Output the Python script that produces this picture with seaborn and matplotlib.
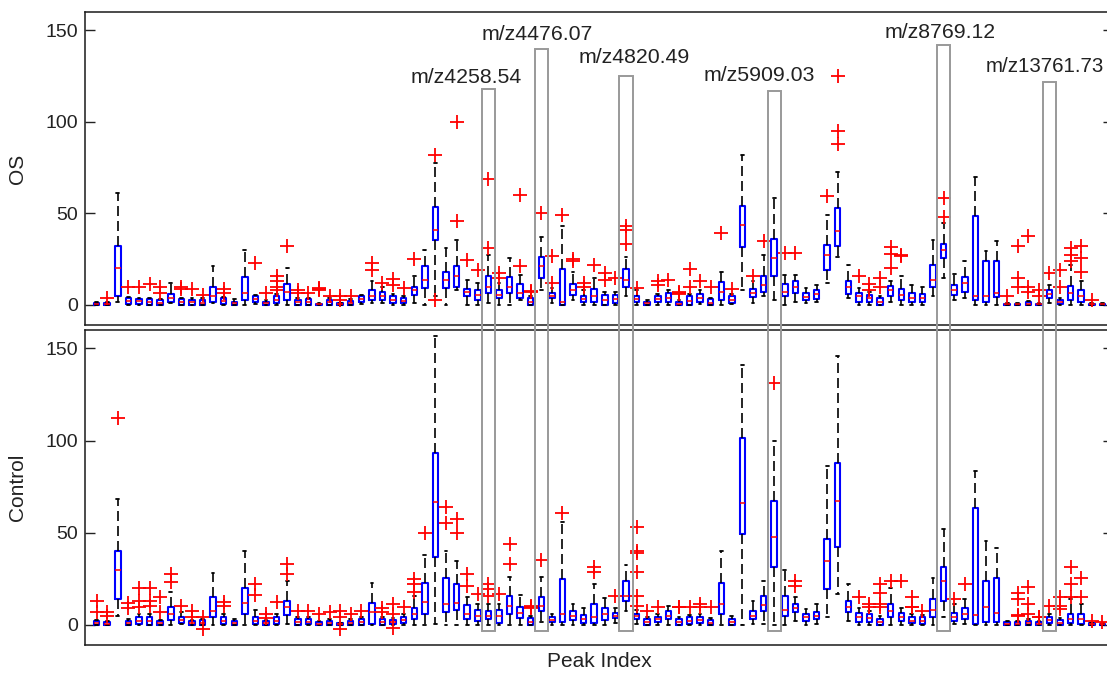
import matplotlib
matplotlib.use('Agg')
import matplotlib.pyplot as plt
import seaborn as sns
from matplotlib.patches import Rectangle

# peak positions on the x axis
peak_index = list(range(1, 97))

# ---- OS group: five-number summaries + outliers ----
os_lo = [0, 0, 1.8, 0, 0, 0, 0, 0.9, 0, 0,
         0, 0.9, 0, 0, 0, 0.5, 0, 0, 0, 0,
         0, 0, 0, 0, 0, 0.5, 1, 0.9, 0, 0,
         0.9, 0, 5, 0, 8.2, 0, 0, 0.9, 0, 0,
         2.7, 0, 8.2, 1, 0, 2.7, 0, 0, 0, 0,
         4.6, 0, 0, 0, 0, 0, 0, 0.5, 0, 0,
         0.5, 8, 0.9, 4.6, 2.7, 0, 1.8, 0.9, 1.3, 11.9,
         26.4, 3.6, 0, 0, 0, 1.8, 0, 0, 0, 4.6,
         14.6, 2.7, 3.6, 0, 0, 0, 0, 0, 0, 0,
         0.9, 0, 0, 0, 0, 0]
os_q1 = [0, 0, 5, 0.5, 0.4, 0, 0, 1.8, 0, 0,
         0, 1.8, 0.5, 0, 2.4, 1.3, 0, 0.9, 2.4, 0,
         0, 0, 0, 0, 0, 1.8, 2.7, 2.7, 0.9, 0.9,
         5.5, 9.1, 35.5, 9.1, 10, 4.9, 2.4, 6.7, 3.6, 6.4,
         4, 0, 14.6, 3.6, 0, 5.5, 1.8, 1.8, 0, 0.9,
         10, 1.3, 0, 1.5, 1.3, 0, 0, 1.3, 0, 2.4,
         0.9, 31.5, 4.2, 7.3, 15.5, 4.6, 6.7, 2.4, 3.1, 19.1,
         32.3, 6, 1.8, 1.8, 0, 4.9, 2.4, 1.8, 1.3, 10,
         25.5, 5.5, 7.3, 2.4, 1.8, 4.2, 0, 0, 0, 0,
         3.6, 0.5, 2.4, 1.8, 0, 0]
os_med = [0.5, 0.4, 20, 2, 2, 1.5, 1, 3.5, 1.5, 1.4,
          1, 4.6, 2, 1, 6.4, 3, 0.8, 2.5, 7.3, 1.5,
          1.8, 0.2, 1.3, 0.3, 1, 3, 5, 5, 2.5, 2,
          8, 13.7, 40.7, 13.7, 15.5, 7.3, 5.5, 10, 5.5, 10,
          6.4, 1.8, 21, 5, 1.8, 8.2, 3.2, 4.6, 2.5, 3,
          13.7, 3, 1, 3, 4, 0.5, 2, 3.5, 1.2, 7.3,
          2.5, 43.8, 6.4, 11, 25.5, 7.3, 10, 4.5, 6, 27.4,
          40.1, 10, 5, 3.5, 1.5, 8, 5.5, 4, 3.5, 13.7,
          30.2, 8, 11.9, 4.6, 4.6, 6.7, 0.2, 0.2, 0.5, 0.2,
          6, 1.5, 6.5, 4.6, 0.2, 0.2]
os_q3 = [1.2, 1, 32, 3.6, 3.3, 3, 2.5, 6, 3.3, 2.7,
         2.7, 9.7, 3.6, 1.8, 15, 4.6, 1.8, 4.6, 11.3, 2.7,
         3.3, 0.5, 2.7, 0.9, 2.2, 4.6, 8.2, 7.3, 4.6, 3.6,
         10, 21, 53.6, 18.2, 21.3, 8.6, 8.2, 15.8, 8.2, 15,
         11.3, 3.6, 26.4, 6.4, 19.5, 11.3, 4.6, 8.6, 5.5, 5.5,
         19.5, 4.6, 1.8, 4.6, 6.4, 1.5, 4.6, 6, 3.1, 12.4,
         4.6, 53.8, 8.6, 15.9, 35.9, 11.3, 13.1, 6.7, 8.2, 32.8,
         52.9, 13.3, 6.7, 5.5, 3.6, 10.4, 8.6, 6.7, 6, 21.9,
         33, 10.9, 15, 48.4, 23.7, 23.7, 0.5, 0.5, 1.3, 0.5,
         8.2, 2.7, 10.4, 8.2, 0.5, 0.5]
os_hi = [1.5, 1.5, 61, 4.5, 4, 4, 3, 12, 4, 3.5,
         3.5, 21, 4.5, 3, 30, 5.5, 2.5, 6, 20, 3.5,
         4, 1, 3.5, 1.2, 3, 5.5, 12.8, 10, 6, 5,
         15.5, 30, 77.5, 31, 35.6, 13.7, 11.9, 27.4, 12, 25.5,
         16.4, 5, 37, 9, 43, 18.2, 8.2, 14.6, 7, 7,
         26.4, 8.2, 2.5, 6, 8, 2.5, 6, 8, 4, 18.2,
         6, 82, 12.8, 27.4, 58.4, 16.4, 16.4, 9.1, 11, 49.3,
         72.4, 21.9, 9.1, 7, 5, 12.8, 15.5, 11, 10, 35.6,
         44.7, 17, 23.7, 70, 29.2, 34.7, 1, 1, 2, 1,
         11, 3.5, 21.9, 12.8, 1, 1]
os_out = [[], [4], [], [10], [10], [11.5], [10, 6.5], [], [10, 8.5], [8.5],
          [5.5], [], [8.6, 6.5], [], [], [23], [6.4], [15.5, 12.8, 10, 8.2], [32], [8.2, 6.4],
          [6.4], [8.2, 8.6, 9], [4.6], [4.6, 2.7], [4.6], [], [23, 19], [12], [14, 11], [9],
          [25], [], [82, 2.7], [], [100, 46], [24.6], [19], [68.6, 31], [17.3, 14.6], [],
          [60, 21], [7.3, 7.8], [50], [26.5, 12], [49], [25, 23.7], [11.9, 10], [21.9], [17.3, 13.7], [14.6],
          [43, 41, 33], [9.1], [], [12.8, 10.9], [13.7], [6, 6.5, 7], [19.7, 10], [12.8], [10], [39],
          [8.6], [], [15.9], [34.7], [], [28.6], [28.3], [], [], [59.5],
          [125, 95, 88], [], [15.9], [11.5, 8.2], [14.6, 10], [31.5, 28, 20], [27.5, 26.5], [], [], [],
          [58.5, 48], [], [], [], [], [], [4.6], [31.9, 14.6, 10], [37.8, 10, 7.3], [8.2, 4.6],
          [17.3], [19.1, 10], [31, 27, 24], [32, 25.5, 18.2], [2.7], []]

# ---- Control group ----
ctrl_lo = [0, 0, 4.9, 0, 0, 0, 0, 0, 0.2, 0,
           0, 0, 0, 0, 0, 0, 0, 0, 0.5, 0,
           0, 0, 0, 0, 0, 0, 0, 0, 0, 0,
           0, 0, 0.5, 0, 0, 0, 0, 0, 0, 0,
           0, 0, 1.3, 0, 0, 0, 0, 0, 0, 1,
           7.6, 0.5, 0, 0, 0, 0, 0, 0, 0, 0,
           0, 0, 0.5, 0.5, 0, 0, 1.8, 0, 0.5, 4,
           16.7, 2.2, 0, 0, 0, 0, 0, 0, 0, 0,
           4, 0.5, 0.4, 0, 0, 0, 0, 0, 0, 0,
           0, 0, 0, 0, 0, 0]
ctrl_q1 = [0, 0, 13.9, 0, 0.4, 0, 0, 2.5, 0.7, 0,
           0, 4, 0.4, 0, 5.8, 0.4, 0, 0.4, 5.4, 0,
           0.4, 0, 0, 0, 0, 0, 0.4, 0, 0.4, 0.7,
           3.1, 5.8, 37, 6.7, 8.1, 3.1, 2.2, 3.1, 0.7, 5.8,
           3.6, 0, 7.6, 1.3, 1.3, 2.5, 0.7, 0.7, 2.5, 3.6,
           13, 3.1, 0, 1.3, 3.1, 0, 0.4, 0.7, 0, 5.8,
           0, 49.3, 3.1, 7.6, 31.2, 4.9, 6.7, 2.2, 3.1, 19.2,
           42.4, 6.7, 1.3, 1.3, 0, 4, 1.8, 0.7, 0.4, 4.3,
           13, 2.2, 3.1, 0.4, 1.3, 1.3, 0, 0, 0, 0,
           0.7, 0, 0.7, 0.4, 0, 0]
ctrl_med = [1, 0.5, 29.7, 1, 2, 2, 0.8, 5.8, 2.5, 0.8,
            1, 7.6, 2, 0.8, 11.6, 2, 0.8, 2, 9.4, 1.5,
            1.5, 0.5, 1, 0.3, 1, 1.5, 6.7, 1.5, 1.5, 2.5,
            6, 12.1, 66.5, 11.2, 12, 6, 5, 5, 4.5, 10.3,
            6.5, 1.5, 10.3, 2.5, 5.8, 5, 3, 4, 6, 5,
            15.6, 4.5, 1.5, 3, 5, 1.5, 2, 2.5, 1.2, 11.2,
            1.5, 66.3, 5, 10.5, 47.5, 8, 9, 4, 5, 34.4,
            67.4, 9.5, 4, 3.5, 1.5, 7.5, 4, 2, 2, 8,
            23.9, 4, 6, 5.4, 9.8, 6.2, 0.5, 0.5, 1, 0.5,
            2.5, 1.2, 3, 3, 0.3, 0.2]
ctrl_q3 = [2, 1.3, 40.2, 2.2, 4.3, 4.3, 1.8, 9.4, 4.3, 1.8,
           2.5, 14.9, 4.3, 1.8, 19.9, 4, 1.8, 4, 13, 3.1,
           3.1, 1.3, 2.2, 0.7, 2.2, 3.1, 11.6, 3.1, 2.5, 4.3,
           9, 22.5, 93.5, 25.4, 22.2, 10.7, 8.1, 7.6, 8.1, 15.6,
           9.4, 3.6, 14.9, 4, 24.8, 7.6, 5.4, 11.2, 9, 6.2,
           23.9, 5.8, 3.1, 4.3, 7.6, 3.1, 4, 4.3, 2.5, 22.5,
           3.1, 101.6, 7.6, 15.6, 67.4, 15.6, 11.2, 5.8, 6.7, 46.6,
           88, 13, 6.2, 5.8, 3.1, 11.2, 6.2, 4.3, 4, 14,
           31.5, 6.2, 8.9, 63.2, 23.9, 25.4, 1.3, 1.3, 2.2, 1.3,
           4.3, 2.5, 5.8, 5.8, 0.7, 0.5]
ctrl_hi = [2.5, 2, 68.3, 3, 6, 6, 2.5, 18, 7, 2.5,
           3, 27.9, 6, 3, 39.9, 8, 2.5, 6, 23.9, 4,
           4, 2, 3, 1, 3, 4, 22.9, 4, 3.5, 6,
           15.6, 38, 157, 40.2, 34.8, 14.9, 11.2, 11, 11, 26.1,
           16.3, 5, 26.1, 6, 55.6, 11.2, 9, 22, 14.5, 9,
           32.6, 8, 4, 6, 10, 4, 5.5, 6, 3.5, 39.9,
           5, 140.8, 13, 23.9, 100, 29.7, 15.2, 8.5, 11.2, 86.4,
           146, 22, 9, 7.5, 4.5, 20, 9, 6, 5.5, 25.4,
           52, 11.2, 14, 83.7, 45.3, 41.9, 2, 2, 3, 2,
           6, 3.5, 14, 11, 1, 1]
ctrl_out = [[13, 7], [7, 5], [112], [12, 9], [19.9, 13, 9.4], [19.9, 13, 10.3], [15.2, 6.7], [27.5, 23], [10.3], [7.6, 4],
            [4, -2.5], [], [12.1, 10.3], [], [], [22, 16], [5.8, 3.5], [12.1], [33, 27.5], [7.6],
            [7.6], [5.8], [6.7], [7.6, 4, -2.2], [5.8], [7.6], [], [9, 7], [11, 6, -2], [9.4],
            [25, 22, 18], [50], [], [64, 55], [57.5, 50], [27.5, 21.2], [16.7], [22, 19.4, 15.6], [16.7], [44, 33],
            [], [9, 9.5, 10], [35], [], [60.5], [], [], [31.5, 28.5], [], [15.6],
            [], [53, 40, 39, 28.5, 15.6, 10.3], [7.6], [9.4], [], [9.4, 9.8], [9.4], [11.2, 9.4], [9.4], [],
            [], [], [], [], [131.5], [], [23.9, 21.2], [], [], [],
            [], [], [15.2], [11.2, 9.4], [22, 17.5, 11.2, 9.4], [24], [23.9], [14.9, 9.4, 9.8], [7.6], [],
            [], [14], [22], [], [], [], [], [17.5, 13.9, 4.9, 5.3], [20.3, 11.2, 5.8], [4, 4.4],
            [10.3], [14.9, 10.3, 8.5], [31.2, 22, 14.9], [25.4, 14.9], [2], [1.5]]

# highlighted peaks
annot_label = ['m/z4258.54', 'm/z4476.07', 'm/z4820.49', 'm/z5909.03', 'm/z8769.12', 'm/z13761.73']
annot_peak = [38, 43, 51, 65, 81, 91]
annot_top = [117.7, 139.6, 124.8, 116.6, 141.8, 122]
annot_text_x = [35.9, 42.6, 51.8, 63.6, 80.7, 90.6]
annot_text_y = [124.2, 147.8, 135.2, 125.3, 148.9, 130.3]


def make_stats(lo, q1, med, q3, hi, out):
    return [dict(whislo=a, q1=b, med=c, q3=d, whishi=e, fliers=f)
            for a, b, c, d, e, f in zip(lo, q1, med, q3, hi, out)]


sns.set_style('white')
plt.rcParams['font.family'] = ['Liberation Sans', 'DejaVu Sans']

fig = plt.figure(figsize=(11.07, 6.75), dpi=100)
W, H = 1107, 675
ax_os = fig.add_axes([85 / W, 350 / H, 1028 / W, 313 / H])
ax_ct = fig.add_axes([85 / W, 30 / H, 1028 / W, 315 / H])

panels = [(ax_os, make_stats(os_lo, os_q1, os_med, os_q3, os_hi, os_out), 'OS'),
          (ax_ct, make_stats(ctrl_lo, ctrl_q1, ctrl_med, ctrl_q3, ctrl_hi, ctrl_out), 'Control')]

for ax, stats, name in panels:
    ax.bxp(stats, positions=peak_index, widths=0.52, manage_ticks=False,
           boxprops=dict(color='#0000ff', linewidth=1.5),
           medianprops=dict(color='#ff0000', linewidth=1.1),
           whiskerprops=dict(color='black', linewidth=1.2, linestyle=(0, (6, 3))),
           capprops=dict(color='black', linewidth=1.3),
           flierprops=dict(marker='+', markeredgecolor='#ff0000', markersize=10,
                           markeredgewidth=1.3, linestyle='none'))
    ax.set_xlim(-0.1, 97)
    ax.set_ylim(-11, 160)
    ax.set_xticks([])
    ax.set_yticks([0, 50, 100, 150])
    ax.tick_params(axis='y', direction='in', length=7, width=1, left=True, right=True,
                   labelsize=14, pad=5, colors='#222222')
    for sp in ax.spines.values():
        sp.set_color('#1a1a1a')
        sp.set_linewidth(1.1)
    ax.set_ylabel(name, fontsize=15, color='#222222')
    ax.yaxis.set_label_coords(-0.056, 0.5)

ax_ct.set_xlabel('Peak Index', fontsize=15, color='#222222', labelpad=5)

# boxes around the selected peaks, running through both panels
to_fig = fig.transFigure.inverted()
for peak, top, lab, tx, ty in zip(annot_peak, annot_top, annot_label, annot_text_x, annot_text_y):
    x0, y0 = to_fig.transform(ax_ct.transData.transform((peak - 0.63, -3.3)))
    x1, y1 = to_fig.transform(ax_os.transData.transform((peak + 0.63, top)))
    fig.patches.append(Rectangle((x0, y0), x1 - x0, y1 - y0, transform=fig.transFigure,
                                 fill=False, edgecolor='#999999', linewidth=1.4, zorder=5))
    ax_os.text(tx, ty, lab, ha='center', va='center', fontsize=15.3 if tx < 90 else 14.8,
               color='#222222', clip_on=False)

fig.savefig('out.png', dpi=100)
